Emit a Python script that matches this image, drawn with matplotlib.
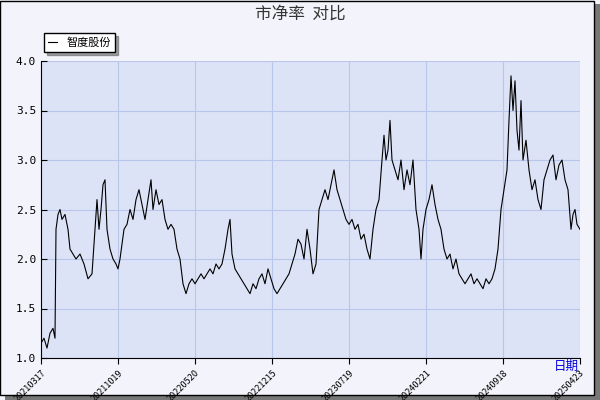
import matplotlib
matplotlib.use("Agg")
import matplotlib.pyplot as plt
from matplotlib.patches import Rectangle

plt.rcParams['font.family'] = ['Noto Sans CJK SC', 'DejaVu Sans']

tick_labels = ['20210317', '20211019', '20220520', '20221215',
               '20230719', '20240221', '20240918', '20250423']

# positions, in pixels along the x axis (41 = first tick, 77 px per tick)
px = [41, 44, 47, 50, 53, 55, 56, 58, 60, 62, 65, 68, 70, 73, 76, 80, 84, 88, 92, 95, 97, 99,
      101, 103, 105, 107, 110, 113, 116, 118, 120, 124, 127, 130, 133, 136, 139, 142, 145, 148,
      151, 153, 156, 159, 162, 165, 168, 171, 174, 177, 180, 183, 186, 189, 192, 195, 198, 201,
      204, 207, 210, 213, 216, 219, 222, 225, 228, 230, 232, 235, 238, 241, 244, 247, 250, 253,
      256, 259, 262, 265, 268, 271, 274, 277, 280, 283, 286, 289, 292, 295, 298, 301, 304, 307,
      310, 313, 316, 319, 322, 325, 328, 331, 334, 337, 340, 343, 346, 349, 352, 355, 358, 361,
      364, 367, 370, 373, 376, 379, 382, 384, 386, 388, 390, 392, 395, 398, 401, 404, 407, 410,
      413, 416, 419, 421, 423, 426, 429, 432, 435, 438, 441, 444, 447, 450, 453, 456, 459, 462,
      465, 468, 471, 474, 477, 480, 483, 486, 489, 492, 495, 498, 501, 504, 507, 509, 511, 513,
      515, 517, 519, 521, 523, 526, 529, 532, 535, 538, 541, 544, 547, 550, 553, 556, 559, 562,
      565, 568, 571, 573, 575, 577, 580]
pb = [1.15, 1.2, 1.1, 1.25, 1.3, 1.2, 2.3, 2.45, 2.5, 2.4, 2.45, 2.3, 2.1, 2.05, 2.0, 2.05, 1.95,
      1.8, 1.85, 2.3, 2.6, 2.3, 2.5, 2.75, 2.8, 2.3, 2.1, 2.0, 1.95, 1.9, 2.0, 2.3, 2.35, 2.5, 2.4,
      2.6, 2.7, 2.55, 2.4, 2.6, 2.8, 2.5, 2.7, 2.55, 2.6, 2.4, 2.3, 2.35, 2.3, 2.1, 2.0, 1.75, 1.65,
      1.75, 1.8, 1.75, 1.8, 1.85, 1.8, 1.85, 1.9, 1.85, 1.95, 1.9, 1.95, 2.1, 2.3, 2.4, 2.05, 1.9,
      1.85, 1.8, 1.75, 1.7, 1.65, 1.75, 1.7, 1.8, 1.85, 1.75, 1.9, 1.8, 1.7, 1.65, 1.7, 1.75, 1.8,
      1.85, 1.95, 2.05, 2.2, 2.15, 2.0, 2.3, 2.1, 1.85, 1.95, 2.5, 2.6, 2.7, 2.6, 2.75, 2.9, 2.7,
      2.6, 2.5, 2.4, 2.35, 2.4, 2.3, 2.35, 2.2, 2.25, 2.1, 2.0, 2.3, 2.5, 2.6, 3.0, 3.25, 3.0, 3.1,
      3.4, 3.0, 2.9, 2.8, 3.0, 2.7, 2.9, 2.75, 3.0, 2.5, 2.3, 2.0, 2.3, 2.5, 2.6, 2.75, 2.55, 2.4,
      2.3, 2.1, 2.0, 2.05, 1.9, 2.0, 1.85, 1.8, 1.75, 1.8, 1.85, 1.75, 1.8, 1.75, 1.7, 1.8, 1.75,
      1.8, 1.9, 2.1, 2.5, 2.7, 2.9, 3.4, 3.85, 3.5, 3.8, 3.3, 3.1, 3.6, 3.0, 3.2, 2.9, 2.7, 2.8,
      2.6, 2.5, 2.8, 2.9, 3.0, 3.05, 2.8, 2.95, 3.0, 2.8, 2.7, 2.3, 2.45, 2.5, 2.35, 2.3]

x = [(p - 41) / 77 for p in px]

fig = plt.figure(figsize=(6, 4), dpi=100, facecolor='#f3f4fb')
fig.patches.append(Rectangle((0.008, 0.0), 0.992, 0.99, transform=fig.transFigure,
                             facecolor='#777777', edgecolor='none', zorder=-2))
fig.patches.append(Rectangle((0.0, 0.012), 0.99, 0.986, transform=fig.transFigure,
                             facecolor='#f3f4fb', edgecolor='black', lw=1, zorder=-1))

ax = fig.add_axes([41 / 600, 1 - 358 / 400, 539 / 600, 297 / 400])
ax.set_facecolor('#dde3f7')
ax.plot(x, pb, color='black', lw=0.8, label='智度股份')
ax.set_xlim(0, 7)
ax.set_ylim(1.0, 4.0)
ax.set_xticks(range(8))
ax.set_xticklabels(tick_labels, rotation=45, ha='right', fontsize=6.5, rotation_mode='anchor')
ax.set_yticks([1.0, 1.5, 2.0, 2.5, 3.0, 3.5, 4.0])
ax.set_yticklabels(['1.0', '1.5', '2.0', '2.5', '3.0', '3.5', '4.0'], fontsize=8,
                   family='DejaVu Sans Mono')
ax.grid(True, color='#b8c6ea', lw=0.8)
for s in ['top', 'right']:
    ax.spines[s].set_visible(False)
ax.tick_params(length=4, direction='in')
ax.tick_params(axis='x', direction='out')

fig.text(0.5, 0.965, '市净率  对比', ha='center', va='center', fontsize=12, color='#333333')
fig.text(0.965, 0.085, '日期', ha='right', va='center', fontsize=9, color='#0000dd')
leg = ax.legend(loc='lower left', bbox_to_anchor=(-0.005, 1.01), fontsize=8, frameon=True,
                fancybox=False, shadow=True, handlelength=0.8, borderpad=0.4)
leg.get_frame().set_edgecolor('black')
leg.get_frame().set_facecolor('white')

fig.savefig('out.png', facecolor=fig.get_facecolor())
